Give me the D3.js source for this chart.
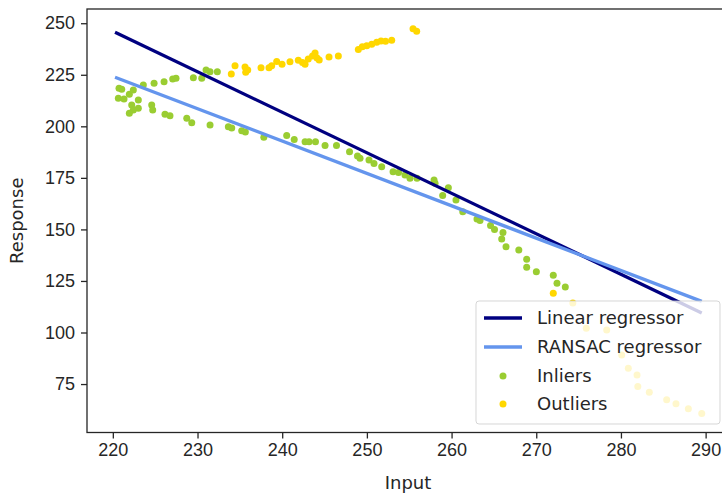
<!DOCTYPE html>
<meta charset="utf-8">
<style>
body { margin: 0; background: white; }
svg { font-family: "DejaVu Sans", sans-serif; }
.axis text { font-size: 18px; fill: #262626; }
.axis path, .axis line { stroke: #262626; stroke-width: 1.3px; }
.label { font-size: 18px; fill: #262626; }
.legend text { font-size: 18px; fill: #262626; }
</style>
<svg id="chart" width="722" height="495"></svg>
<script src="https://cdnjs.cloudflare.com/ajax/libs/d3/7.8.5/d3.min.js"></script>
<script>
// inliers
var inlierX = [220.73, 221.05, 220.65, 221.32, 221.95, 222.42, 223.01, 222.23, 222.42, 221.95,
  223.01, 223.60, 224.59, 224.71, 224.87, 226.05, 227.07, 227.46, 226.16, 226.75,
  228.73, 229.32, 229.51, 230.50, 231.01, 231.48, 232.34, 231.48, 233.64, 234.04,
  235.22, 235.65, 237.83, 240.53, 241.42, 242.70, 243.17, 243.93, 245.06, 246.41,
  247.95, 248.89, 249.19, 250.25, 250.84, 251.75, 253.09, 253.74, 254.50, 255.09,
  255.92, 257.93, 258.05, 259.62, 258.95, 260.52, 261.32, 263.00, 263.36, 264.60,
  265.07, 266.07, 265.92, 266.43, 267.94, 268.87, 268.87, 270.01, 272.01, 272.45, 273.43];
var inlierY = [218.46, 217.98, 213.61, 213.27, 215.55, 217.64, 212.79, 210.36, 207.93, 206.33,
  208.76, 220.06, 210.36, 207.93, 220.89, 221.66, 222.97, 223.31, 205.85, 205.17,
  203.91, 201.77, 223.61, 223.31, 227.34, 226.52, 226.52, 200.66, 199.83, 199.20,
  197.89, 197.26, 194.69, 195.56, 193.62, 192.55, 192.55, 192.55, 190.71, 190.71,
  187.70, 185.61, 184.50, 183.67, 181.97, 180.42, 178.00, 177.61, 176.40, 174.79,
  174.79, 173.97, 172.37, 170.23, 166.45, 164.27, 158.59, 155.05, 154.32, 151.89,
  149.95, 148.50, 145.34, 141.61, 140.00, 135.49, 131.61, 129.48, 127.78, 123.85, 122.05];

var outlierX = [233.99, 234.43, 235.61, 235.93, 235.69, 237.50, 238.44, 238.76, 239.35, 239.98,
  240.92, 241.90, 242.40, 242.70, 243.08, 243.58, 243.88, 244.11, 244.37, 245.53,
  246.63, 248.99, 249.46, 249.98, 250.57, 251.16, 251.67, 252.20, 252.93, 255.45,
  255.88, 272.01, 274.32, 275.91, 278.32, 280.09, 280.87, 281.90, 281.99, 283.35,
  285.40, 286.50, 287.96, 289.54];
var outlierY = [225.40, 229.43, 228.80, 227.34, 226.23, 228.46, 228.46, 229.43, 231.47, 230.16,
  231.37, 232.05, 230.98, 230.11, 232.68, 234.13, 235.59, 233.16, 232.19, 233.65,
  234.13, 237.29, 238.65, 239.13, 239.81, 240.78, 241.41, 241.31, 241.75, 247.38,
  246.12, 119.00, 114.29, 102.01, 101.19, 89.06, 82.61, 79.36, 73.87, 71.01,
  67.37, 65.43, 62.96, 60.77];

// fitted lines, drawn between the min and max input
var lineX = [220.26, 289.54];
var linearY = [245.6, 109.5];
var ransacY = [223.8, 115.1];

var xTicks = [220, 230, 240, 250, 260, 270, 280, 290];
var yTicks = [75, 100, 125, 150, 175, 200, 225, 250];

var seriesNames = ["Linear regressor", "RANSAC regressor", "Inliers", "Outliers"];
var colors = { navy: "#000080", blue: "#6495ed", green: "#9acd32", gold: "#ffd700" };

(function draw() {
  var svg = d3.select("#chart");
  var pl = 87, pr = 729, pt = 9, pb = 432.5;

  var x = d3.scaleLinear().domain([216.95, 292.76]).range([pl, pr]);
  var y = d3.scaleLinear().domain([51.5, 256.9]).range([pb, pt]);

  var inliers = inlierX.map(function(v, i) { return [v, inlierY[i]]; });
  var outliers = outlierX.map(function(v, i) { return [v, outlierY[i]]; });

  svg.append("g").selectAll("circle")
    .data(inliers)
    .enter().append("circle")
      .attr("cx", function(d) { return x(d[0]); })
      .attr("cy", function(d) { return y(d[1]); })
      .attr("r", 3.5)
      .attr("fill", colors.green);

  svg.append("g").selectAll("circle")
    .data(outliers)
    .enter().append("circle")
      .attr("cx", function(d) { return x(d[0]); })
      .attr("cy", function(d) { return y(d[1]); })
      .attr("r", 3.5)
      .attr("fill", colors.gold);

  var line = d3.line()
    .x(function(d) { return x(d[0]); })
    .y(function(d) { return y(d[1]); });

  svg.append("path")
    .datum(lineX.map(function(v, i) { return [v, linearY[i]]; }))
    .attr("d", line)
    .attr("fill", "none")
    .attr("stroke", colors.navy)
    .attr("stroke-width", 3.3);

  svg.append("path")
    .datum(lineX.map(function(v, i) { return [v, ransacY[i]]; }))
    .attr("d", line)
    .attr("fill", "none")
    .attr("stroke", colors.blue)
    .attr("stroke-width", 3.3);

  // frame (right edge falls just outside the picture)
  svg.append("rect")
    .attr("x", pl).attr("y", pt)
    .attr("width", pr - pl).attr("height", pb - pt)
    .attr("fill", "none")
    .attr("stroke", "#262626")
    .attr("stroke-width", 1.3);

  svg.append("g")
    .attr("class", "axis")
    .attr("transform", "translate(0," + pb + ")")
    .call(d3.axisBottom(x).tickValues(xTicks).tickSize(6).tickPadding(5).tickSizeOuter(0))
    .call(function(g) { g.select(".domain").remove(); });

  svg.append("g")
    .attr("class", "axis")
    .attr("transform", "translate(" + pl + ",0)")
    .call(d3.axisLeft(y).tickValues(yTicks).tickSize(6).tickPadding(6).tickSizeOuter(0))
    .call(function(g) { g.select(".domain").remove(); });

  svg.append("text")
    .attr("class", "label")
    .attr("x", (pl + pr) / 2)
    .attr("y", 489)
    .attr("text-anchor", "middle")
    .text("Input");

  svg.append("text")
    .attr("class", "label")
    .attr("transform", "translate(23," + ((pt + pb) / 2) + ") rotate(-90)")
    .attr("text-anchor", "middle")
    .text("Response");

  // legend, lower right
  var legend = svg.append("g").attr("class", "legend");
  legend.append("rect")
    .attr("x", 476).attr("y", 301)
    .attr("width", 244).attr("height", 123)
    .attr("rx", 3)
    .attr("fill", "white").attr("fill-opacity", 0.8)
    .attr("stroke", "#cccccc").attr("stroke-opacity", 0.8);

  var rows = [318, 347, 376, 404];
  seriesNames.forEach(function(name, i) {
    var ry = rows[i];
    if (i < 2) {
      legend.append("line")
        .attr("x1", 484).attr("x2", 522)
        .attr("y1", ry).attr("y2", ry)
        .attr("stroke", i == 0 ? colors.navy : colors.blue)
        .attr("stroke-width", 3.3);
    } else {
      legend.append("circle")
        .attr("cx", 503).attr("cy", ry)
        .attr("r", 3.5)
        .attr("fill", i == 2 ? colors.green : colors.gold);
    }
    legend.append("text")
      .attr("x", 537).attr("y", ry)
      .attr("dy", "0.35em")
      .text(name);
  });
})();
</script>
